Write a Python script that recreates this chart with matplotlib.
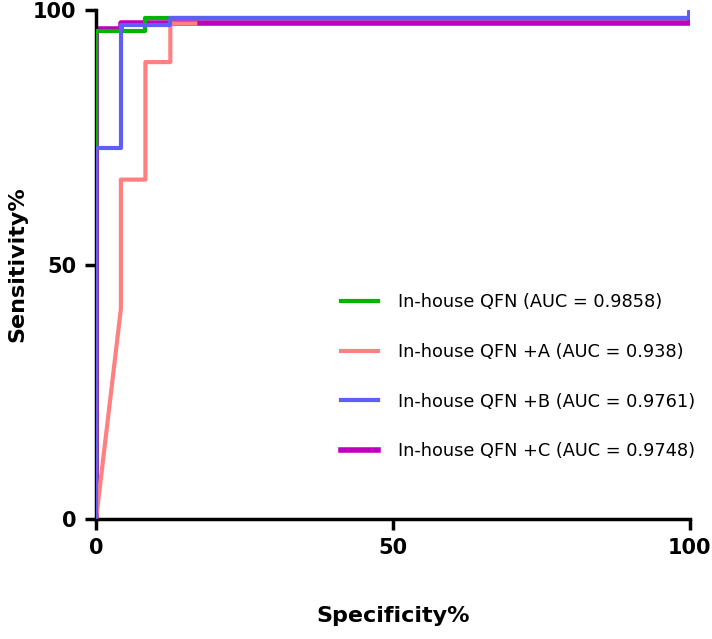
import matplotlib
matplotlib.use('Agg')
import matplotlib.pyplot as plt

# ROC step points (x = 100 - specificity, y = sensitivity)
x_base = [0, 0, 8.3, 8.3, 100, 100]
y_base = [0, 96.0, 96.0, 98.4, 98.4, 100]
x_a = [0, 4.17, 4.17, 8.3, 8.3, 12.5, 12.5, 16.7]
y_a = [0, 41.3, 66.7, 66.7, 89.8, 89.8, 97.4, 97.4]
x_b = [0, 0, 4.17, 4.17, 12.5, 12.5, 100, 100]
y_b = [0, 73.0, 73.0, 97.1, 97.1, 98.4, 98.4, 100]
x_c = [0, 0, 4.17, 4.17, 100, 100]
y_c = [0, 96.3, 96.3, 97.4, 97.4, 99.5]

labels = ['In-house QFN (AUC = 0.9858)',
          'In-house QFN +A (AUC = 0.938)',
          'In-house QFN +B (AUC = 0.9761)',
          'In-house QFN +C (AUC = 0.9748)']

fig = plt.figure(figsize=(7.12, 6.39), dpi=100)
ax = fig.add_axes([0.135, 0.188, 0.834, 0.796])

ax.plot(x_c, y_c, color='#BF00BF', lw=4, label=labels[3], zorder=2)
ax.plot(x_base, y_base, color='#00B400', lw=3, label=labels[0], zorder=3)
ax.plot(x_a, y_a, color='#FF8080', lw=3, label=labels[1], zorder=3)
ax.plot(x_b, y_b, color='#5F5FF5', lw=3, label=labels[2], zorder=4)

ax.set_xlim(0, 100)
ax.set_ylim(0, 100)
ax.set_xticks([0, 50, 100])
ax.set_yticks([0, 50, 100])
for s in ['top', 'right']:
    ax.spines[s].set_visible(False)
for s in ['left', 'bottom']:
    ax.spines[s].set_linewidth(2.5)
ax.tick_params(width=2.5, length=8, labelsize=15, pad=6)
for t in ax.get_xticklabels() + ax.get_yticklabels():
    t.set_fontweight('bold')

ax.set_xlabel('Specificity%', fontsize=16, fontweight='bold', labelpad=34)
ax.set_ylabel('Sensitivity%', fontsize=16, fontweight='bold', labelpad=4)

h, l = ax.get_legend_handles_labels()
order = [1, 2, 3, 0]
ax.legend([h[i] for i in order], [l[i] for i in order], frameon=False,
          loc='upper left', bbox_to_anchor=(0.385, 0.475), fontsize=12.8,
          handlelength=2.1, labelspacing=1.78, handletextpad=1.1)

plt.savefig('out.png', dpi=100)
